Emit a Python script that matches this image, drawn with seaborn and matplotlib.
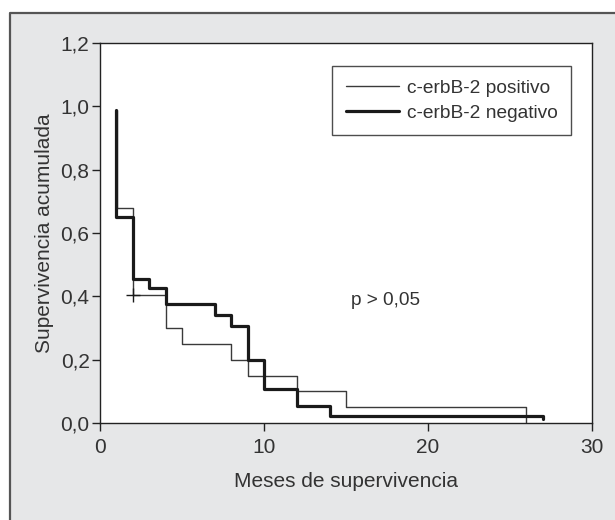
import matplotlib
matplotlib.use("Agg")
import matplotlib.pyplot as plt
import matplotlib.patches as mpatches
from matplotlib.lines import Line2D
from matplotlib.ticker import FuncFormatter
import seaborn as sns
import pandas as pd

# ---- data ----
pos_label = "c-erbB-2 positivo"
neg_label = "c-erbB-2 negativo"
pos_time = [1.05, 1.05, 2, 4, 5, 8, 9, 12, 15, 26]
pos_surv = [0.99, 0.68, 0.405, 0.30, 0.25, 0.20, 0.15, 0.10, 0.05, 0.0]
neg_time = [1.0, 1.0, 2, 3, 4, 7, 8, 9, 10, 12, 14, 27]
neg_surv = [0.99, 0.65, 0.455, 0.425, 0.375, 0.34, 0.307, 0.20, 0.107, 0.055, 0.021, 0.012]
censor_time = [2.0]
censor_surv = [0.405]
x_ticks = [0, 10, 20, 30]
y_ticks = [0.0, 0.2, 0.4, 0.6, 0.8, 1.0, 1.2]
x_label = "Meses de supervivencia"
y_label = "Supervivencia acumulada"
p_text = "p > 0,05"

sns.set_theme(style="ticks")
plt.rcParams["font.family"] = ["Liberation Sans", "DejaVu Sans"]
txt_color = "#333333"

fig = plt.figure(figsize=(6.15, 5.2), dpi=100)
fig.patch.set_facecolor("white")
W, H = 615, 520
# gray panel
panel = mpatches.Rectangle((9 / W, 0), 1.0, (520 - 12) / H,
                           transform=fig.transFigure, facecolor="#e6e7e8",
                           edgecolor="none", zorder=-10)
fig.patches.append(panel)
# left and top border of the panel
fig.add_artist(Line2D([9.5 / W, 9.5 / W, 1.0], [0, 1 - 12.5 / H, 1 - 12.5 / H],
                      transform=fig.transFigure, color="#555555", linewidth=1.6,
                      zorder=-9))

ax = fig.add_axes([100 / W, 1 - 423 / H, (592 - 100) / W, (423 - 43) / H])
ax.set_facecolor("white")

df_pos = pd.DataFrame({"t": pos_time, "s": pos_surv})
df_neg = pd.DataFrame({"t": neg_time, "s": neg_surv})
sns.lineplot(data=df_pos, x="t", y="s", estimator=None, sort=False,
             drawstyle="steps-post", color="#3a3a3a", linewidth=1.0, ax=ax)
sns.lineplot(data=df_neg, x="t", y="s", estimator=None, sort=False,
             drawstyle="steps-post", color="#1a1a1a", linewidth=2.3, ax=ax)
sns.scatterplot(x=censor_time, y=censor_surv, marker="+", s=90, color="#1a1a1a",
                linewidth=1.0, ax=ax, zorder=5)

ax.set_xlim(0, 30)
ax.set_ylim(0, 1.2)
ax.set_xticks(x_ticks)
ax.set_yticks(y_ticks)
ax.yaxis.set_major_formatter(FuncFormatter(lambda v, p: f"{v:.1f}".replace(".", ",")))
ax.xaxis.set_major_formatter(FuncFormatter(lambda v, p: f"{int(v)}"))
ax.tick_params(axis="both", direction="out", length=5.5, width=1.0, color="#222222",
               labelsize=15, labelcolor=txt_color)
ax.tick_params(axis="y", pad=2)
ax.tick_params(axis="x", pad=5)
for sp in ax.spines.values():
    sp.set_visible(True)
    sp.set_color("#222222")
    sp.set_linewidth(1.0)

ax.set_xlabel(x_label, fontsize=15, color=txt_color, labelpad=11)
ax.set_ylabel(y_label, fontsize=15, color=txt_color, labelpad=5)

ax.text(15.3, 0.388, p_text, fontsize=13.7, color=txt_color, ha="left", va="center")

handles = [Line2D([], [], color="#3a3a3a", linewidth=1.0),
           Line2D([], [], color="#1a1a1a", linewidth=2.3)]
leg = ax.legend(handles, [pos_label, neg_label], loc="upper right",
                bbox_to_anchor=((571 - 100) / 492, (423 - 66) / 380),
                frameon=True, fancybox=False, fontsize=13.8, handlelength=2.8,
                handletextpad=0.4, labelspacing=0.42, borderpad=0.69,
                borderaxespad=0.0)
leg.get_frame().set_edgecolor("#222222")
leg.get_frame().set_linewidth(1.0)
for t in leg.get_texts():
    t.set_color(txt_color)

fig.savefig("out.png", dpi=100)
